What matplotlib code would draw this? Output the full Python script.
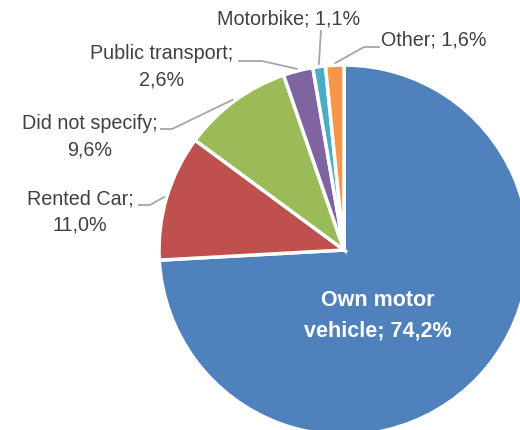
import numpy as np
import matplotlib
matplotlib.use('Agg')
import matplotlib.pyplot as plt

categories = ['Own motor\nvehicle', 'Rented Car', 'Did not specify',
              'Public transport', 'Motorbike', 'Other']
shares = [74.2, 11.0, 9.6, 2.6, 1.1, 1.6]
colors = ['#4F81BD', '#C0504D', '#9BBB59', '#8064A2', '#4BACC6', '#F79646']

FONT = ['Liberation Sans', 'DejaVu Sans']
TEXT_COLOR = '#404040'
LINE_COLOR = '#A6A6A6'

# pie geometry in pixel-like data units (figure is 520x430)
cx, cy, radius = 344, 180, 185

# outside labels: text anchor (x, y), elbow point of the leader, end of leader
label_layout = {
    1: dict(text=(80, 218), elbow=(150, 225), end=138),
    2: dict(text=(90, 293), elbow=(172, 301), end=160),
    3: dict(text=(162, 363), elbow=(262, 369), end=238),
    4: dict(text=(289, 411), elbow=(321, 400), end=None),
    5: dict(text=(434, 390), elbow=(364, 383), end=380),
}


def fmt_pct(v):
    return ('%.1f%%' % v).replace('.', ',')


fig = plt.figure(figsize=(5.2, 4.3), dpi=100)
ax = fig.add_axes([0, 0, 1, 1])

explode = [0.035, 0, 0, 0, 0, 0]
wedges, _ = ax.pie(shares, colors=colors, startangle=90, counterclock=False,
                   center=(cx, cy), radius=radius, explode=explode,
                   wedgeprops=dict(edgecolor='white', linewidth=2.5))

ax.set_xlim(0, 520)
ax.set_ylim(0, 430)
ax.set_aspect('equal')
ax.axis('off')

# inner label for the big slice
ax.text(378, 430 - 316, '%s; %s' % (categories[0], fmt_pct(shares[0])),
        ha='center', va='center', color='white', fontsize=15.5,
        fontweight='bold', family=FONT, linespacing=1.6)

for i, w in enumerate(wedges):
    if i == 0:
        continue
    lay = label_layout[i]
    ang = np.deg2rad((w.theta1 + w.theta2) / 2.0)
    px = cx + radius * 1.01 * np.cos(ang)
    py = cy + radius * 1.01 * np.sin(ang)
    ex, ey = lay['elbow']
    xs = [px, ex]
    ys = [py, ey]
    if lay['end'] is not None:
        xs.append(lay['end'])
        ys.append(ey)
    ax.plot(xs, ys, color=LINE_COLOR, linewidth=1.3, solid_capstyle='butt')
    name = categories[i]
    if i in (4, 5):
        txt = '%s; %s' % (name, fmt_pct(shares[i]))
    else:
        txt = '%s;\n%s' % (name, fmt_pct(shares[i]))
    ax.text(lay['text'][0], lay['text'][1], txt, ha='center', va='center',
            color=TEXT_COLOR, fontsize=14.2, family=FONT, linespacing=1.5)

fig.savefig('out.png', dpi=100)
